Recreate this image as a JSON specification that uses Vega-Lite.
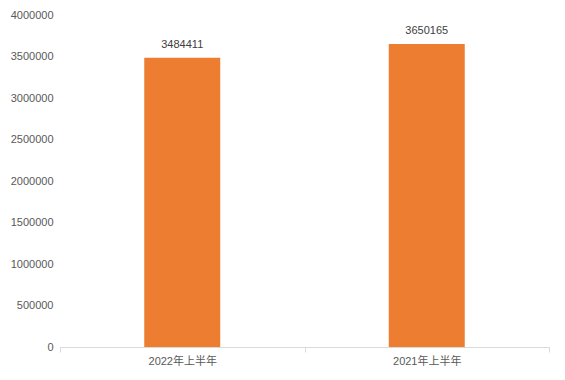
{
  "$schema": "https://vega.github.io/schema/vega-lite/v6.json",
  "width": 489,
  "height": 332,
  "autosize": {"type": "none"},
  "padding": {"left": 60, "top": 15, "right": 16, "bottom": 33},
  "background": "#ffffff",
  "config": {
    "view": {"stroke": null},
    "font": "Liberation Sans, Noto Sans CJK SC",
    "axis": {"labelFont": "Liberation Sans, Noto Sans CJK SC", "labelColor": "#595959", "labelFontSize": 11, "grid": false}
  },
  "data": {
    "values": [
      {"period": "2022年上半年", "value": 3484411},
      {"period": "2021年上半年", "value": 3650165}
    ]
  },
  "encoding": {
    "x": {
      "field": "period",
      "type": "nominal",
      "sort": null,
      "scale": {"paddingInner": 0, "paddingOuter": 0},
      "axis": {
        "title": null,
        "labelAngle": 0,
        "labelColor": "#595959",
        "domainColor": "#D9D9D9",
        "tickColor": "#D9D9D9",
        "tickBand": "extent",
        "tickSize": 5,
        "labelPadding": 3
      }
    },
    "y": {
      "field": "value",
      "type": "quantitative",
      "scale": {"domain": [0, 4000000], "nice": false},
      "axis": {
        "title": null,
        "values": [0, 500000, 1000000, 1500000, 2000000, 2500000, 3000000, 3500000, 4000000],
        "format": "d",
        "labelColor": "#595959",
        "domain": false,
        "ticks": false,
        "labelPadding": 7
      }
    }
  },
  "layer": [
    {"mark": {"type": "bar", "size": 76, "color": "#ED7D31"}},
    {
      "mark": {"type": "text", "baseline": "bottom", "dy": -8, "fontSize": 11, "color": "#404040"},
      "encoding": {"text": {"field": "value", "type": "quantitative", "format": "d"}}
    }
  ]
}
